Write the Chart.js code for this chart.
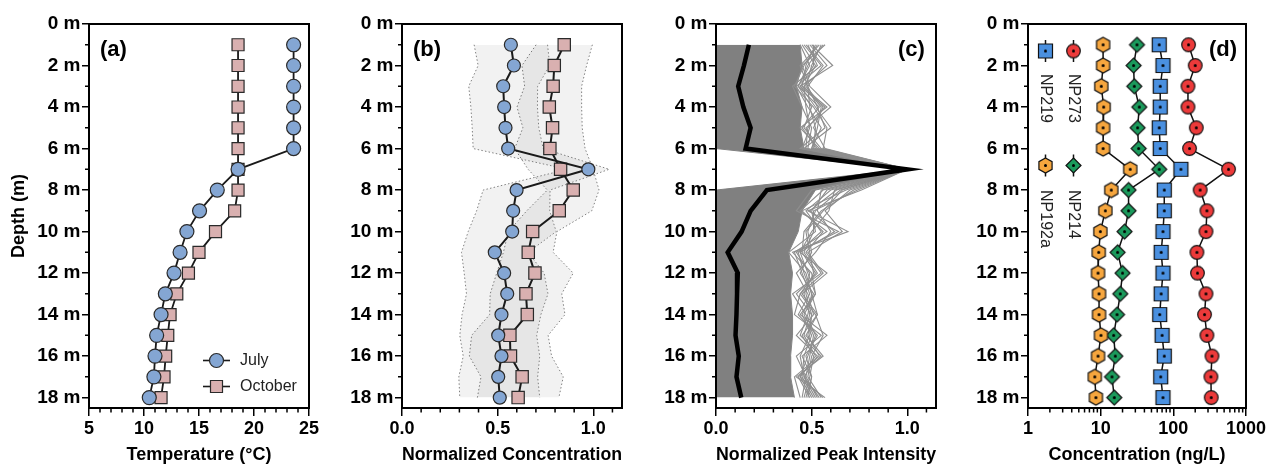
<!DOCTYPE html>
<html><head><meta charset="utf-8">
<script src="https://cdn.jsdelivr.net/npm/chart.js@4.4.1/dist/chart.umd.min.js"></script>
<style>
html,body{margin:0;padding:0;background:#fff;width:1269px;height:466px;overflow:hidden;}
canvas{position:absolute;top:0;}
</style></head><body>
<canvas id="ca" width="330" height="466" style="left:0px"></canvas>
<canvas id="cb" width="330" height="466" style="left:313px"></canvas>
<canvas id="cc" width="330" height="466" style="left:627px"></canvas>
<canvas id="cd" width="330" height="466" style="left:939px"></canvas>
<script>
// ---------- data ----------
const depths = [1,2,3,4,5,6,7,8,9,10,11,12,13,14,15,16,17,18];
const depthMajorTicks = [0,2,4,6,8,10,12,14,16,18];
const depthMinorTicks = [1,3,5,7,9,11,13,15,17];

// (a) temperature
const julyTemp = [23.6,23.6,23.6,23.6,23.6,23.6,18.55,16.66,15.05,13.9,13.28,12.73,11.94,11.55,11.15,11.0,10.9,10.48];
const octTemp  = [18.55,18.55,18.55,18.55,18.55,18.55,18.55,18.55,18.24,16.5,15.0,14.04,12.98,12.37,12.16,11.97,11.82,11.55];
const tempTicks = [5,10,15,20,25];

// (b) normalized concentration (mean and SD)
const julyConc = [0.569,0.585,0.529,0.534,0.541,0.555,0.974,0.599,0.581,0.576,0.485,0.534,0.55,0.52,0.503,0.52,0.503,0.511];
const julySD   = [0.192,0.187,0.18,0.174,0.174,0.183,0.109,0.175,0.191,0.23,0.174,0.209,0.213,0.206,0.201,0.2,0.206,0.209];
const octConc  = [0.848,0.796,0.79,0.77,0.787,0.773,0.829,0.895,0.822,0.683,0.66,0.695,0.648,0.655,0.564,0.567,0.628,0.607];
const octSD    = [0.147,0.169,0.149,0.169,0.155,0.184,0.17,0.135,0.17,0.127,0.13,0.2,0.187,0.197,0.2,0.215,0.215,0.213];
const normTicks = [0,0.5,1.0];

// (c) normalized peak intensity
const peakMean  = [0.172,0.146,0.116,0.143,0.181,0.155,1.0,0.266,0.181,0.134,0.061,0.114,0.11,0.107,0.102,0.119,0.107,0.132];
const peakMin   = [0,0,0,0,0,0,1.0,0,0,0,0,0,0,0,0,0,0,0];
const peakDense = [0.44,0.45,0.42,0.45,0.44,0.46,1.0,0.52,0.45,0.43,0.38,0.40,0.39,0.40,0.40,0.39,0.39,0.41];
const peakL1  = [0.57,0.45,0.49,0.60,0.47,0.52,1,0.62,0.59,0.50,0.44,0.58,0.45,0.53,0.47,0.56,0.42,0.57];
const peakL2  = [0.50,0.61,0.44,0.52,0.60,0.46,1,0.76,0.48,0.69,0.40,0.50,0.52,0.44,0.58,0.45,0.50,0.48];
const peakL3  = [0.55,0.50,0.47,0.56,0.51,0.57,1,0.55,0.53,0.60,0.52,0.42,0.48,0.51,0.42,0.53,0.46,0.54];
const peakL4  = [0.46,0.55,0.42,0.48,0.55,0.50,1,0.68,0.45,0.56,0.47,0.55,0.40,0.47,0.52,0.48,0.44,0.50];
const peakL5  = [0.52,0.47,0.45,0.58,0.44,0.54,1,0.58,0.50,0.52,0.38,0.47,0.50,0.53,0.45,0.51,0.49,0.46];
const peakL6  = [0.48,0.53,0.40,0.45,0.50,0.48,1,0.72,0.55,0.46,0.45,0.52,0.44,0.41,0.55,0.42,0.47,0.53];
const peakL7  = [0.54,0.44,0.48,0.53,0.57,0.44,1,0.50,0.42,0.64,0.42,0.49,0.47,0.50,0.48,0.54,0.41,0.44];
const peakL8  = [0.44,0.49,0.43,0.50,0.46,0.55,1,0.65,0.52,0.48,0.50,0.44,0.51,0.45,0.50,0.46,0.45,0.51];
const peakL9  = [0.49,0.58,0.46,0.55,0.53,0.50,1,0.70,0.57,0.66,0.48,0.56,0.44,0.52,0.56,0.50,0.48,0.55];
const peakL10 = [0.53,0.46,0.41,0.51,0.58,0.56,1,0.60,0.47,0.55,0.43,0.46,0.50,0.48,0.44,0.55,0.43,0.49];
const peakL11 = [0.45,0.52,0.46,0.47,0.49,0.45,1,0.74,0.51,0.51,0.46,0.53,0.42,0.50,0.49,0.44,0.46,0.52];
const peakL12 = [0.56,0.48,0.43,0.54,0.45,0.53,1,0.56,0.44,0.58,0.41,0.45,0.49,0.43,0.53,0.47,0.50,0.47];
const peakL13 = [0.47,0.56,0.48,0.49,0.52,0.51,1,0.66,0.56,0.47,0.49,0.51,0.46,0.49,0.46,0.52,0.44,0.56];
const peakL14 = [0.51,0.51,0.44,0.57,0.48,0.47,1,0.63,0.49,0.62,0.44,0.48,0.52,0.46,0.51,0.49,0.47,0.45];

// (d) concentration ng/L
const np192a = [10.8,10.8,10.2,11.0,10.8,10.8,25.5,14.0,11.6,9.9,9.4,9.2,9.5,9.5,10.1,9.2,8.3,8.6];
const np214  = [31.6,28.4,29.0,34.0,32.2,33.3,64,24.2,24.2,21.3,17.1,20.0,18.6,16.8,15.1,15.9,14.3,15.4];
const np219  = [64,72,66,66,64,66,127,75,75,72,68,72,68,65,70,75,67,72];
const np273  = [162,200,159,159,207,167,575,234,290,281,211,215,281,269,290,340,329,332];
const concTicks = [1,10,100,1000];

// ---------- styling helpers ----------
const FONT = "'Liberation Sans', Arial, sans-serif";
const BLUE = '#84a6d3', PINK = '#d9b0b0';
const xy = arr => arr.map((v, i) => ({x: v, y: depths[i]}));

function scalesFor(o) {
  return {
    x: {
      type: o.type || 'linear', min: o.min, max: o.max, position: 'bottom',
      afterBuildTicks: s => { s.ticks = o.major.map(v => ({value: v})); },
      afterFit: s => { s.height = 58; s.paddingLeft = 0; s.paddingRight = 0; },
      ticks: { callback: o.fmt, color: '#000', font: {family: FONT, size: 18, weight: 'bold'}, padding: 2, maxRotation: 0, autoSkip: false },
      grid: { drawOnChartArea: false, drawTicks: true, tickLength: 8, tickWidth: 1.5, tickColor: '#000', color: '#000', lineWidth: 1.5 },
      border: { display: true, color: '#000', width: 2 },
      title: { display: true, text: o.title, color: '#000', font: {family: FONT, size: 18, weight: 'bold'}, padding: {top: 0, bottom: 0} }
    },
    y: {
      type: 'linear', reverse: true, min: 0, max: 18.5,
      afterBuildTicks: s => { s.ticks = depthMajorTicks.map(v => ({value: v})); },
      afterFit: s => { s.width = 89; s.paddingTop = 0; s.paddingBottom = 0; },
      ticks: { callback: v => v + ' m', color: '#000', font: {family: FONT, size: 19, weight: 'bold'}, padding: 1.5, autoSkip: false },
      grid: { drawOnChartArea: false, drawTicks: true, tickLength: 7, tickWidth: 1.5, tickColor: '#000', color: '#000', lineWidth: 1.5 },
      border: { display: true, color: '#000', width: 2 },
      title: { display: !!o.yTitle, text: 'Depth (m)', color: '#000', font: {family: FONT, size: 18, weight: 'bold'}, padding: {top: 8, bottom: 0} }
    }
  };
}

function decoPlugin(cfg) {
  return {
    id: 'deco',
    afterDraw(chart) {
      const {ctx, chartArea: a, scales: {x, y}} = chart;
      ctx.save();
      ctx.strokeStyle = '#000';
      ctx.lineWidth = 1.5;
      ctx.beginPath();
      for (const v of depthMinorTicks) { const p = y.getPixelForValue(v); ctx.moveTo(a.left - 4, p); ctx.lineTo(a.left, p); }
      for (const v of cfg.xMinor) { const p = x.getPixelForValue(v); ctx.moveTo(p, a.bottom); ctx.lineTo(p, a.bottom + 4.5); }
      ctx.stroke();
      ctx.lineWidth = 2;
      ctx.strokeRect(a.left, a.top, a.right - a.left, a.bottom - a.top);
      ctx.fillStyle = '#000';
      ctx.font = 'bold 22px ' + FONT;
      ctx.textBaseline = 'middle'; ctx.textAlign = 'left';
      ctx.fillText(cfg.tag, cfg.tagX, 50);
      if (cfg.extra) cfg.extra(ctx, chart);
      ctx.restore();
    }
  };
}

function baseOpts(o, padRight) {
  return {
    responsive: false, animation: false, events: [], indexAxis: 'y',
    layout: { padding: {top: 24, left: 0, right: padRight, bottom: 0} },
    plugins: { legend: {display: false}, tooltip: {enabled: false} },
    scales: scalesFor(o)
  };
}

// ---------- (a) ----------
const minorA = []; for (let t = 6; t < 25; t++) if (t % 5) minorA.push(t);
new Chart(document.getElementById('ca'), {
  type: 'line',
  data: { datasets: [
    { data: xy(julyTemp), borderColor: '#1a1a1a', borderWidth: 1.8, pointStyle: 'circle', pointRadius: 7,
      pointBackgroundColor: BLUE, pointBorderColor: '#2a2a2a', pointBorderWidth: 1.2 },
    { data: xy(octTemp), borderColor: '#1a1a1a', borderWidth: 1.8, pointStyle: 'rect', pointRadius: 8.5,
      pointBackgroundColor: PINK, pointBorderColor: '#2a2a2a', pointBorderWidth: 1.2 }
  ]},
  options: baseOpts({min: 5, max: 25, major: tempTicks, fmt: v => String(v), title: 'Temperature (°C)', yTitle: true}, 21),
  plugins: [decoPlugin({tag: '(a)', tagX: 100, xMinor: minorA, extra: (ctx) => {
    const items = [{lbl: 'July', shape: 'circle', bg: BLUE, y: 360.5}, {lbl: 'October', shape: 'rect', bg: PINK, y: 386.5}];
    for (const it of items) {
      ctx.strokeStyle = '#1a1a1a'; ctx.lineWidth = 1.6;
      ctx.beginPath(); ctx.moveTo(203, it.y); ctx.lineTo(230, it.y); ctx.stroke();
      ctx.beginPath();
      if (it.shape === 'circle') ctx.arc(216.5, it.y, 7, 0, Math.PI * 2); else ctx.rect(210.5, it.y - 6, 12, 12);
      ctx.fillStyle = it.bg; ctx.fill(); ctx.strokeStyle = '#2a2a2a'; ctx.lineWidth = 1.2; ctx.stroke();
      ctx.fillStyle = '#222'; ctx.font = '16px ' + FONT; ctx.textBaseline = 'middle'; ctx.textAlign = 'left';
      ctx.fillText(it.lbl, 240, it.y);
    }
  }})]
});

// ---------- (b) ----------
const minorNorm = [0.1,0.2,0.3,0.4,0.6,0.7,0.8,0.9,1.1];
const bandFill = 'rgba(0,0,0,0.052)';
const bandLine = {borderColor: '#808080', borderWidth: 1, borderDash: [1.5, 2.2], pointRadius: 0, order: 2};
new Chart(document.getElementById('cb'), {
  type: 'line',
  data: { datasets: [
    { data: xy(julyConc), borderColor: '#1a1a1a', borderWidth: 2, pointStyle: 'circle', pointRadius: 6.5,
      pointBackgroundColor: BLUE, pointBorderColor: '#2a2a2a', pointBorderWidth: 1.2, order: 0 },
    { data: xy(octConc), borderColor: '#1a1a1a', borderWidth: 2, pointStyle: 'rect', pointRadius: 8.7,
      pointBackgroundColor: PINK, pointBorderColor: '#2a2a2a', pointBorderWidth: 1.2, order: 1 },
    Object.assign({ data: xy(julyConc.map((m, i) => m - julySD[i])), fill: false }, bandLine),
    Object.assign({ data: xy(julyConc.map((m, i) => m + julySD[i])), fill: 2, backgroundColor: bandFill }, bandLine),
    Object.assign({ data: xy(octConc.map((m, i) => m - octSD[i])), fill: false }, bandLine),
    Object.assign({ data: xy(octConc.map((m, i) => m + octSD[i])), fill: 4, backgroundColor: bandFill }, bandLine)
  ]},
  options: baseOpts({min: 0, max: 1.15, major: normTicks, fmt: v => v.toFixed(1), title: 'Normalized Concentration'}, 21),
  plugins: [decoPlugin({tag: '(b)', tagX: 100, xMinor: minorNorm})]
});

// ---------- (c) ----------
const greyLine = {borderColor: '#8e8e8e', borderWidth: 1.1, pointRadius: 0, fill: false, order: 2};
const peakLines = [peakL1, peakL2, peakL3, peakL4, peakL5, peakL6, peakL7, peakL8, peakL9, peakL10, peakL11, peakL12, peakL13, peakL14];
new Chart(document.getElementById('cc'), {
  type: 'line',
  data: { datasets: [
    { data: xy(peakMean), borderColor: '#000', borderWidth: 4.5, pointRadius: 0, fill: false, order: 0 },
    { data: xy(peakMin), borderColor: '#808080', borderWidth: 1, pointRadius: 0, fill: false, order: 3 },
    { data: xy(peakDense), borderColor: '#858585', borderWidth: 1, pointRadius: 0, fill: 1, backgroundColor: '#808080', order: 3 }
  ].concat(peakLines.map(l => Object.assign({data: xy(l)}, greyLine)))},
  options: baseOpts({min: 0, max: 1.15, major: normTicks, fmt: v => v.toFixed(1), title: 'Normalized Peak Intensity'}, 21),
  plugins: [decoPlugin({tag: '(c)', tagX: 271, xMinor: minorNorm})]
});

// ---------- (d) ----------
function marker(shape, fill) {
  const c = document.createElement('canvas'); c.width = 19; c.height = 19;
  const g = c.getContext('2d'); g.translate(9.5, 9.5);
  g.beginPath();
  if (shape === 'square') g.rect(-7, -7, 14, 14);
  else if (shape === 'circle') g.arc(0, 0, 6.8, 0, Math.PI * 2);
  else if (shape === 'diamond') { g.moveTo(0, -7.5); g.lineTo(7.5, 0); g.lineTo(0, 7.5); g.lineTo(-7.5, 0); g.closePath(); }
  else { for (let k = 0; k < 6; k++) { const an = -Math.PI / 2 + k * Math.PI / 3; const px = 7.6 * Math.cos(an), py = 7.6 * Math.sin(an); if (k) g.lineTo(px, py); else g.moveTo(px, py); } g.closePath(); }
  g.fillStyle = fill; g.fill(); g.lineWidth = 1.2; g.strokeStyle = '#111'; g.stroke();
  g.beginPath(); g.arc(0, 0, 1.5, 0, Math.PI * 2); g.fillStyle = '#000'; g.fill();
  return c;
}
const mHex = marker('hex', '#f6a63e'), mDia = marker('diamond', '#1b9a5c'), mSq = marker('square', '#4a90e0'), mCir = marker('circle', '#ec3a3a');
const minorLog = [];
for (const d of [1, 10, 100]) for (let k = 2; k <= 9; k++) minorLog.push(k * d);
const dLine = {borderColor: '#111', borderWidth: 1.5, pointRadius: 7, fill: false};
new Chart(document.getElementById('cd'), {
  type: 'line',
  data: { datasets: [
    Object.assign({data: xy(np192a), pointStyle: mHex}, dLine),
    Object.assign({data: xy(np214), pointStyle: mDia}, dLine),
    Object.assign({data: xy(np219), pointStyle: mSq}, dLine),
    Object.assign({data: xy(np273), pointStyle: mCir}, dLine)
  ]},
  options: baseOpts({type: 'logarithmic', min: 1, max: 1000, major: concTicks, fmt: v => String(v), title: 'Concentration (ng/L)'}, 23),
  plugins: [decoPlugin({tag: '(d)', tagX: 270, xMinor: minorLog, extra: (ctx) => {
    const items = [
      {img: mSq, x: 106.5, y: 51, lbl: 'NP219', ty: 74},
      {img: mCir, x: 134.5, y: 51, lbl: 'NP273', ty: 74},
      {img: mHex, x: 106.5, y: 165.5, lbl: 'NP192a', ty: 190},
      {img: mDia, x: 134.5, y: 165.5, lbl: 'NP214', ty: 190}
    ];
    for (const it of items) {
      ctx.strokeStyle = '#111'; ctx.lineWidth = 1.5;
      ctx.beginPath(); ctx.moveTo(it.x, it.y - 11); ctx.lineTo(it.x, it.y + 11); ctx.stroke();
      ctx.drawImage(it.img, it.x - 9.5, it.y - 9.5);
      ctx.save();
      ctx.translate(it.x, it.ty); ctx.rotate(Math.PI / 2);
      ctx.fillStyle = '#222'; ctx.font = '16px ' + FONT; ctx.textBaseline = 'middle'; ctx.textAlign = 'left';
      ctx.fillText(it.lbl, 0, 0);
      ctx.restore();
    }
  }})]
});
</script>
</body></html>
